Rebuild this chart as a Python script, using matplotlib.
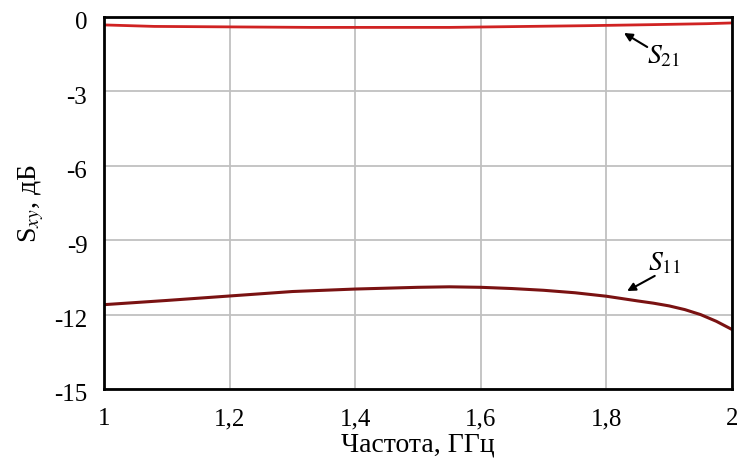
import numpy as np
import matplotlib
matplotlib.use('Agg')
from matplotlib import pyplot as plt
from matplotlib import transforms

# частота, ГГц и значения S-параметров, дБ
freq_s21 = [1.0, 1.08, 1.33, 1.55, 1.77, 1.87, 1.96, 2.0]
s21 = [-0.32, -0.38, -0.42, -0.42, -0.35, -0.31, -0.27, -0.24]

freq_s11 = [1.0, 1.1, 1.2, 1.3, 1.4, 1.5, 1.55, 1.6, 1.65, 1.7, 1.75, 1.8,
            1.85, 1.875, 1.9, 1.925, 1.95, 1.975, 2.0]
s11 = [-11.6, -11.43, -11.25, -11.07, -10.97, -10.9, -10.88, -10.9, -10.95,
       -11.02, -11.12, -11.26, -11.45, -11.54, -11.65, -11.8, -12.0,
       -12.27, -12.6]

x_ticks = [1.0, 1.2, 1.4, 1.6, 1.8, 2.0]
x_labels = ['1', '1,2', '1,4', '1,6', '1,8', '2']
y_ticks = [0, -3, -6, -9, -12, -15]
y_labels = ['0', '-3', '-6', '-9', '-12', '-15']

plt.rcParams['font.family'] = ['Liberation Serif', 'DejaVu Serif']
plt.rcParams['mathtext.fontset'] = 'stix'

fig = plt.figure(figsize=(7.37, 4.6), dpi=100)
ax = fig.add_axes([0.1411, 0.1522, 0.8521, 0.8087])

ax.plot(freq_s21, s21, color='#D02323', lw=2)
ax.plot(freq_s11, s11, color='#7A1212', lw=2.2, solid_joinstyle='round')

ax.set_xlim(1, 2)
ax.set_ylim(-15, 0)
ax.set_xticks(x_ticks)
ax.set_xticklabels(x_labels)
ax.set_yticks(y_ticks)
ax.set_yticklabels(y_labels)
ax.tick_params(length=0, labelsize=18)
ax.tick_params(axis='x', pad=13)
ax.tick_params(axis='y', pad=12)
# подписи оси Y чуть ниже линий сетки
shift = transforms.ScaledTranslation(0, -3 / 100, fig.dpi_scale_trans)
for lbl in ax.get_yticklabels():
    lbl.set_transform(lbl.get_transform() + shift)
ax.grid(True, color='#C0C0C0', lw=1.3)
ax.set_axisbelow(True)
for sp in ax.spines.values():
    sp.set_linewidth(2)
    sp.set_color('black')

ax.set_xlabel('Частота, ГГц', fontsize=20, labelpad=2)
ax.set_ylabel(r'S$_{xy}$, дБ', fontsize=20, labelpad=6)

# подписи кривых со стрелками
arrow = dict(arrowstyle='-|>', color='black', lw=1.5,
             mutation_scale=12, shrinkA=0, shrinkB=0)
ax.annotate('', xy=(1.828, -0.645), xytext=(1.865, -1.21), arrowprops=arrow)
ax.text(1.865, -1.57, r'$S_{21}$', fontsize=20, ha='left', va='center')
ax.annotate('', xy=(1.833, -11.05), xytext=(1.877, -10.44), arrowprops=arrow)
ax.text(1.866, -9.92, r'$S_{11}$', fontsize=20, ha='left', va='center')

plt.savefig('out.png', dpi=100)
